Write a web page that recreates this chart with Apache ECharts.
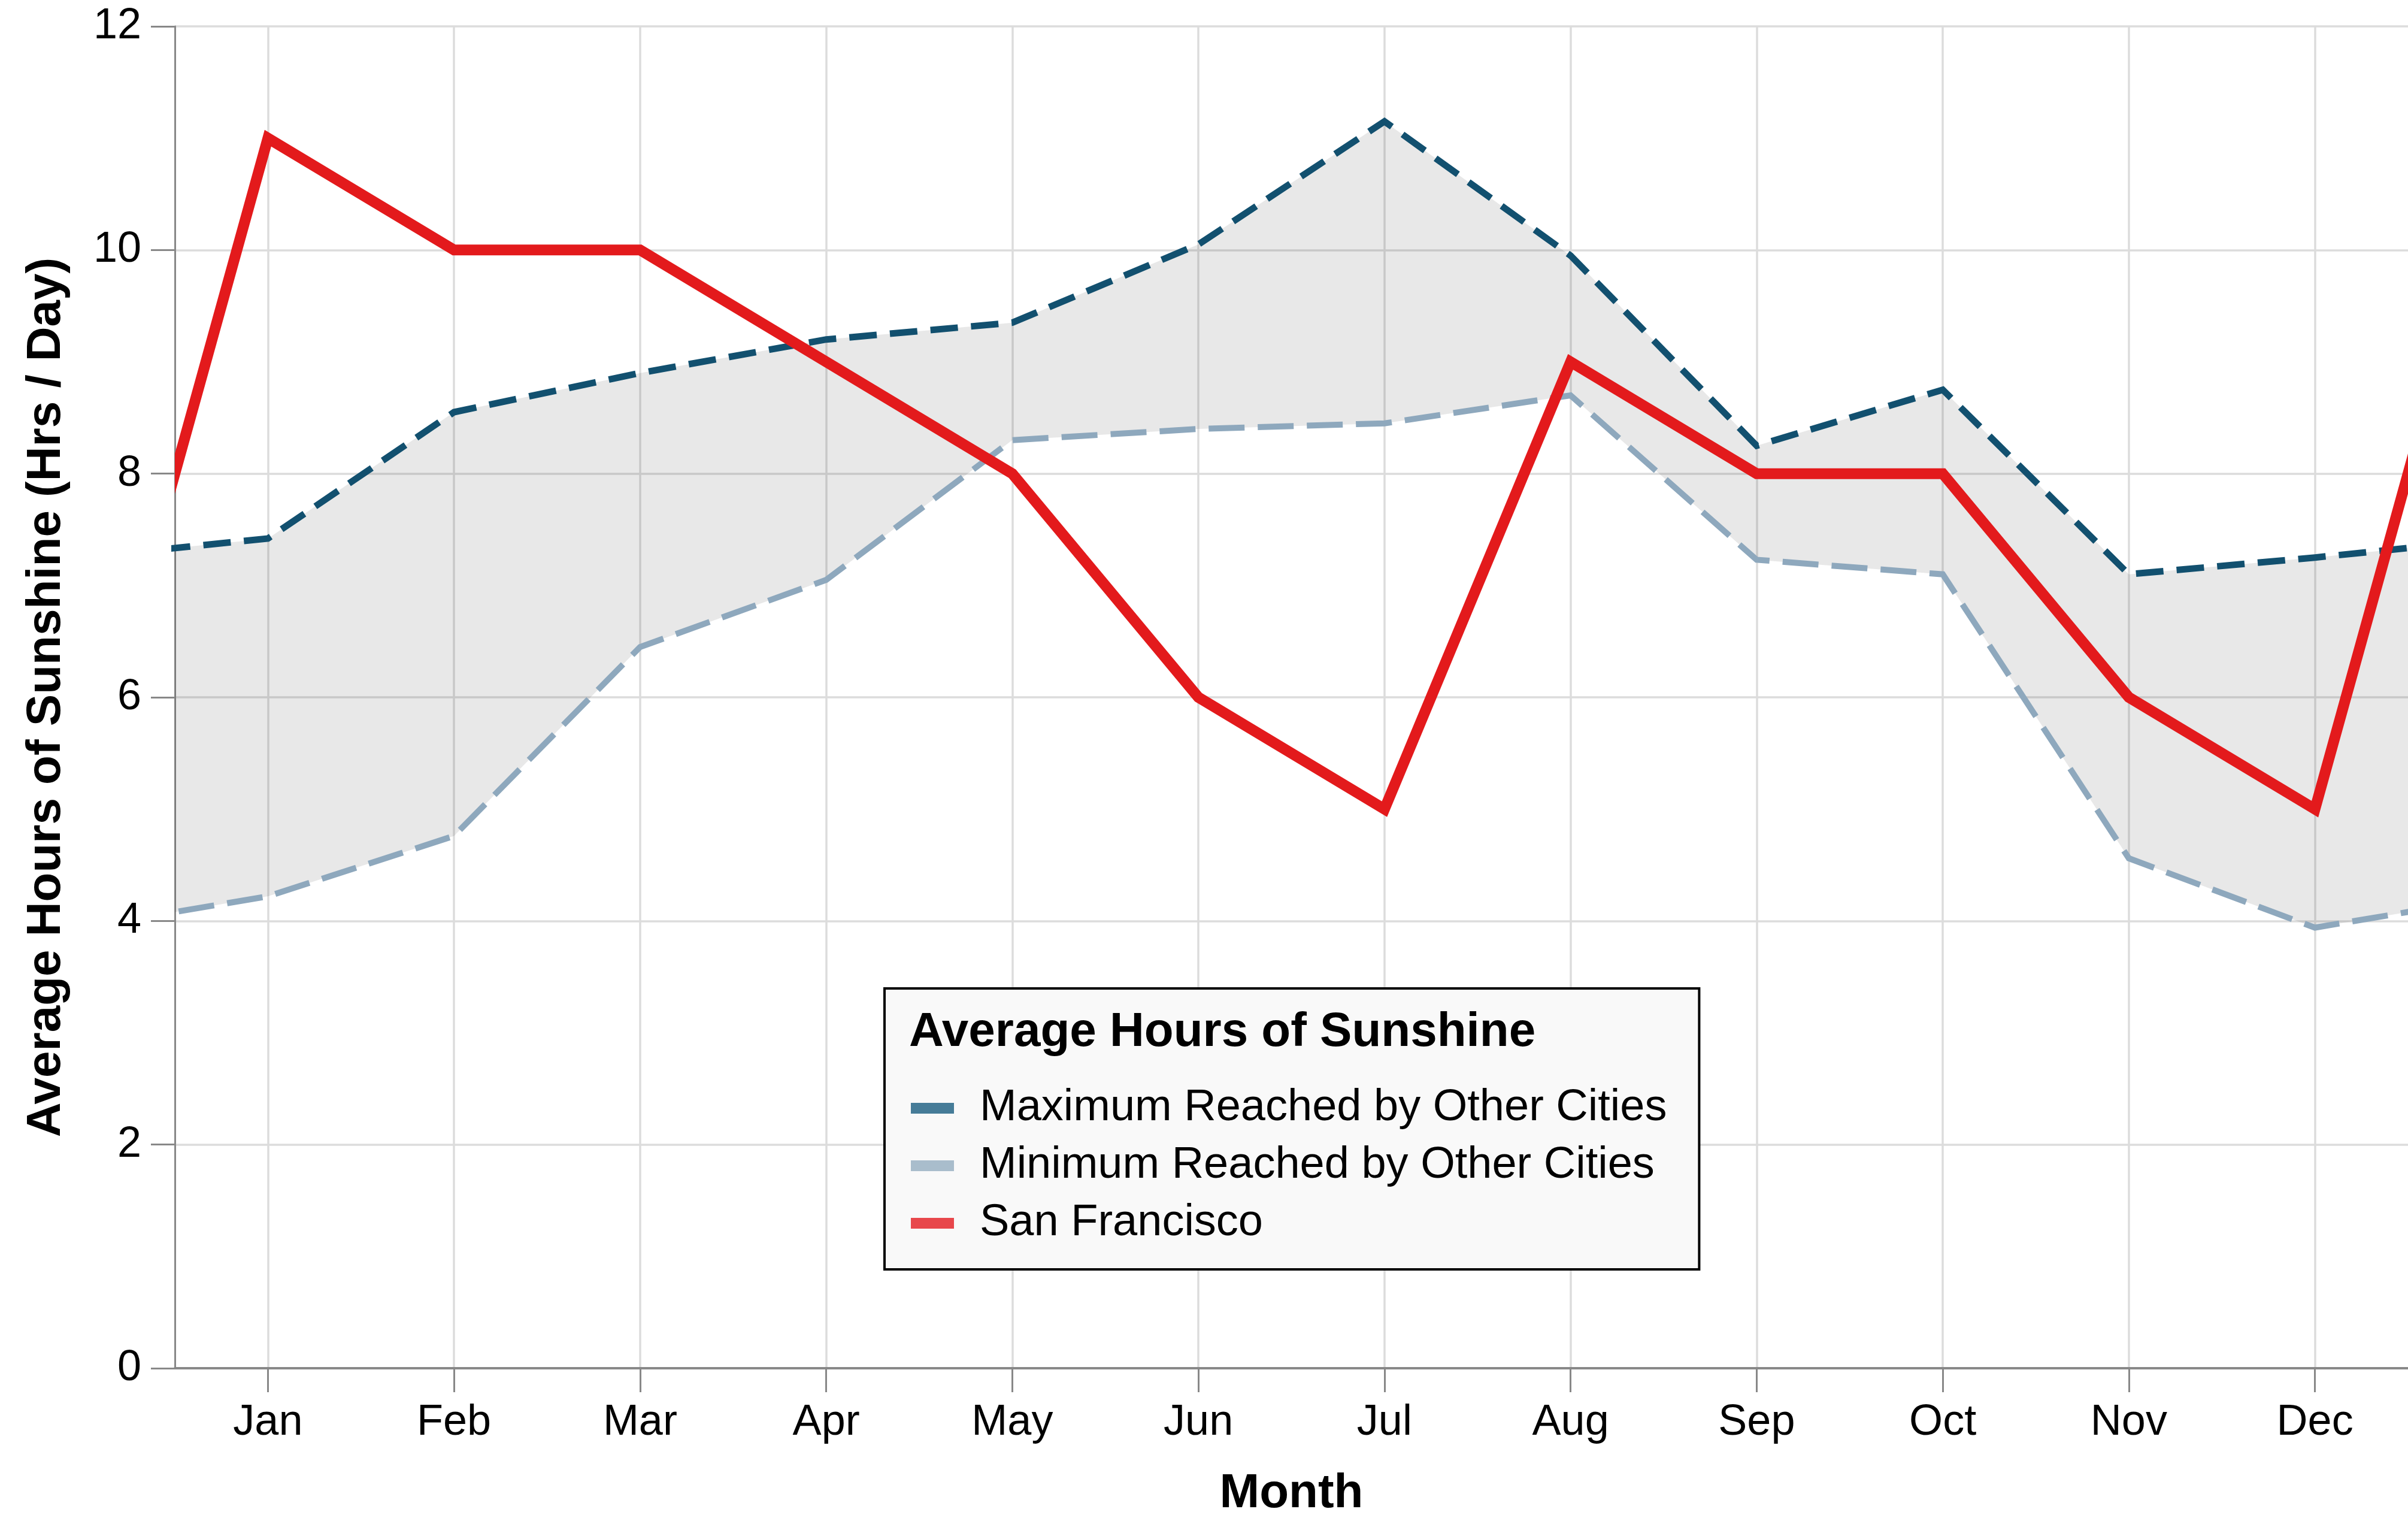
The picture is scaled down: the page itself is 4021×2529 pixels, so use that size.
<!DOCTYPE html>
<html>
<head>
<meta charset="utf-8">
<title>Average Hours of Sunshine</title>
<script src="https://cdn.jsdelivr.net/npm/echarts@6/dist/echarts.min.js"></script>
<style>
  html, body { margin: 0; padding: 0; background: #fff; overflow: hidden; }
  #chart { width: 100vw; height: 100vh; }
</style>
</head>
<body>
<div id="chart"></div>
<script>
const months = ["Jan", "Feb", "Mar", "Apr", "May", "Jun", "Jul", "Aug", "Sep", "Oct", "Nov", "Dec"];
const sanFrancisco = [11, 10, 10, 9, 8, 6, 5, 9, 8, 8, 6, 5];
const maxOtherCities = [7.42, 8.55, 8.9, 9.2, 9.35, 10.05, 11.15, 9.95, 8.25, 8.75, 7.1, 7.25];
const minOtherCities = [4.22, 4.76, 6.45, 7.05, 8.3, 8.4, 8.45, 8.7, 7.23, 7.1, 4.56, 3.94];
const yTicks = [0, 2, 4, 6, 8, 10, 12];

const FONT = "'Liberation Sans', Arial, Helvetica, sans-serif";

// the year wraps around: Dec is repeated before Jan and Jan after Dec,
// the plot edges then clip the segments half way
function wrap(values) {
  const pts = values.map((v, i) => [i + 1, v]);
  return [[0, values[11]], ...pts, [13, values[0]]];
}

const maxPts = wrap(maxOtherCities);
const minPts = wrap(minOtherCities);
const sfPts = wrap(sanFrancisco);

function plotClip(cs) {
  return { type: "rect", shape: { x: cs.x, y: cs.y, width: cs.width, height: cs.height } };
}

// grey band between the min and max lines, drawn as one polygon
function renderBand(params, api) {
  if (params.dataIndex !== 0) return null;
  const upper = maxPts.map((p) => api.coord(p));
  const lower = minPts.map((p) => api.coord(p)).reverse();
  return {
    type: "polygon",
    shape: { points: upper.concat(lower) },
    style: { fill: "rgba(0,0,0,0.09)" },
    clipPath: plotClip(params.coordSys),
  };
}

// thick SF line, clipped exactly at the plot edges
function renderSF(params, api) {
  if (params.dataIndex !== 0) return null;
  return {
    type: "polyline",
    shape: { points: sfPts.map((p) => api.coord(p)) },
    style: { stroke: "#e31a1c", lineWidth: 18, fill: null, lineJoin: "miter" },
    clipPath: plotClip(params.coordSys),
  };
}

const chart = echarts.init(document.getElementById("chart"));
chart.setOption({
  animation: false,
  backgroundColor: "#fff",
  textStyle: { fontFamily: FONT },
  grid: { left: 292, right: 0, top: 44, bottom: 245, outerBoundsMode: "none" },
  title: {
    text: "Average Hours of Sunshine",
    left: 1518,
    top: 1684,
    padding: 0,
    z: 20,
    textStyle: { fontFamily: FONT, fontSize: 80, fontWeight: "bold", color: "#000" },
  },
  legend: {
    orient: "vertical",
    left: 1477,
    top: 1650,
    padding: [163, 54, 40, 44],
    backgroundColor: "#f9f9f9",
    borderColor: "#000",
    borderWidth: 4,
    icon: "rect",
    itemWidth: 72,
    itemHeight: 18,
    itemGap: 22,
    textStyle: { fontFamily: FONT, fontSize: 74, color: "#000", padding: [0, 0, 0, 38] },
    data: [
      { name: "Maximum Reached by Other Cities", itemStyle: { color: "#467c98", borderWidth: 0 } },
      { name: "Minimum Reached by Other Cities", itemStyle: { color: "#a9bdcc", borderWidth: 0 } },
      { name: "San Francisco", itemStyle: { color: "#e8474b", borderWidth: 0 } },
    ],
  },
  xAxis: {
    type: "value",
    min: 0.5,
    max: 12.5,
    name: "Month",
    nameLocation: "middle",
    nameGap: 170,
    nameTextStyle: { fontFamily: FONT, fontSize: 80, fontWeight: "bold", color: "#000" },
    axisLine: { show: true, onZero: false, lineStyle: { color: "#888", width: 4 } },
    axisTick: {
      show: true,
      length: 40,
      customValues: months.map((m, i) => i + 1),
      lineStyle: { color: "#888", width: 3 },
    },
    axisLabel: {
      margin: 55,
      fontSize: 72,
      color: "#000",
      customValues: months.map((m, i) => i + 1),
      formatter: (v) => months[Math.round(v) - 1] || "",
    },
    splitLine: { show: true, lineStyle: { color: "#dcdcdc", width: 3.5 } },
  },
  yAxis: {
    type: "value",
    min: 0,
    max: 12,
    interval: 2,
    name: "Average Hours of Sunshine (Hrs / Day)",
    nameLocation: "middle",
    nameGap: 174,
    nameTextStyle: { fontFamily: FONT, fontSize: 80, fontWeight: "bold", color: "#000" },
    axisLine: { show: true, lineStyle: { color: "#888", width: 3 } },
    axisTick: { show: true, length: 40, lineStyle: { color: "#888", width: 3 } },
    axisLabel: {
      margin: 56,
      fontSize: 72,
      color: "#000",
      customValues: yTicks,
    },
    splitLine: { show: true, lineStyle: { color: "#dcdcdc", width: 3.5 } },
  },
  series: [
    {
      name: "band",
      type: "custom",
      renderItem: renderBand,
      data: maxPts,
      silent: true,
      z: 1,
    },
    {
      name: "Minimum Reached by Other Cities",
      type: "line",
      data: minPts,
      symbol: "none",
      lineStyle: { color: "#8ea8bd", width: 10, type: [60, 22], cap: "butt", join: "miter" },
      z: 2,
    },
    {
      name: "Maximum Reached by Other Cities",
      type: "line",
      data: maxPts,
      symbol: "none",
      lineStyle: { color: "#12506f", width: 11, type: [46, 22], cap: "butt", join: "miter" },
      z: 3,
    },
    {
      name: "San Francisco",
      type: "custom",
      renderItem: renderSF,
      data: sfPts,
      itemStyle: { color: "#e31a1c" },
      z: 4,
    },
  ],
});
</script>
</body>
</html>
